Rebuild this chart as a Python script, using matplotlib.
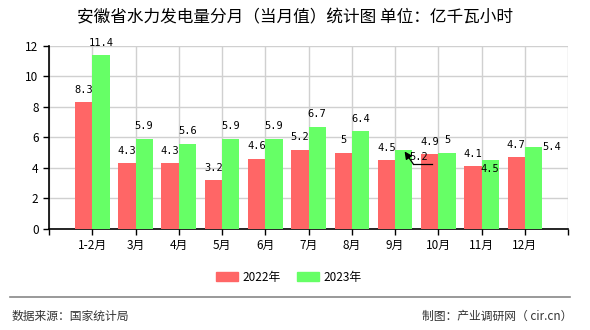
import numpy as np
from matplotlib import pyplot as plt
from matplotlib.patches import Rectangle
from matplotlib.lines import Line2D

plt.rcParams['font.family'] = ['Noto Sans CJK SC', 'DejaVu Sans']

months = ['1-2月', '3月', '4月', '5月', '6月', '7月', '8月', '9月', '10月', '11月', '12月']
v2022 = [8.3, 4.3, 4.3, 3.2, 4.6, 5.2, 5, 4.5, 4.9, 4.1, 4.7]
v2023 = [11.4, 5.9, 5.6, 5.9, 5.9, 6.7, 6.4, 5.2, 5, 4.5, 5.4]

red = '#ff6666'
green = '#66ff66'

fig = plt.figure(figsize=(5.9, 3.3), dpi=100)
ax = fig.add_axes([0.083, 0.306, 0.88, 0.555])

x = np.arange(len(months))
w = 0.4
ax.bar(x - w / 2, v2022, w, color=red, zorder=3)
ax.bar(x + w / 2, v2023, w, color=green, zorder=3)

ax.set_xlim(-1, len(months))
ax.set_ylim(0, 12)
ax.set_yticks(range(0, 13, 2))
ax.set_xticks(np.arange(-1, len(months) + 1))
ax.set_xticklabels([''] + months + [''])
ax.tick_params(axis='both', labelsize=8.5, length=4, width=1, color='black')
ax.grid(True, color='#d0d0d0', linewidth=1, zorder=0)
for s in ['top', 'right']:
    ax.spines[s].set_visible(False)
for s in ['left', 'bottom']:
    ax.spines[s].set_linewidth(1.2)

lbl = dict(fontsize=7.5, family='DejaVu Sans Mono', ha='center', va='center', zorder=5)

def fmt(v):
    return ('%g' % v)

# value labels, a few of them shifted to keep clear of each other
for i in range(len(months)):
    ax.annotate(fmt(v2022[i]), (x[i] - w / 2, v2022[i]), xytext=(0, 9),
                textcoords='offset points', **lbl)
    if months[i] == '9月':
        tip = (x[i] + 0.22, v2023[i] - 0.12)
        foot = (x[i] + 0.42, v2023[i] - 0.94)
        ax.text(x[i] + 0.55, v2023[i] - 0.46, fmt(v2023[i]), **lbl)
        arr = ax.annotate('', xy=tip, xytext=foot,
                          arrowprops=dict(arrowstyle='-|>', color='black', lw=0.9,
                                          mutation_scale=11, shrinkA=0, shrinkB=0))
        arr.arrow_patch.set_zorder(7)
        ax.plot([foot[0], x[i] + 0.86], [foot[1]] * 2, color='black', lw=0.9, zorder=7)
    elif months[i] == '11月':
        ax.annotate(fmt(v2023[i]), (x[i] + w / 2, v2023[i]), xytext=(0, -6.5),
                    textcoords='offset points', **lbl)
    elif months[i] == '12月':
        ax.annotate(fmt(v2023[i]), (x[i] + w, v2023[i]), xytext=(7, 0),
                    textcoords='offset points', **lbl)
    else:
        ax.annotate(fmt(v2023[i]), (x[i] + w / 2, v2023[i]), xytext=(0, 9),
                    textcoords='offset points', **lbl)

fig.text(0.5, 0.945, '安徽省水力发电量分月（当月值）统计图 单位：亿千瓦小时',
         ha='center', va='center', fontsize=12)

# legend
handles = [Rectangle((0, 0), 1, 1, color=red), Rectangle((0, 0), 1, 1, color=green)]
fig.legend(handles, ['2022年', '2023年'], loc='center', bbox_to_anchor=(0.49, 0.16),
           ncol=2, frameon=False, fontsize=8.5, handlelength=1.85, handleheight=0.76,
           columnspacing=1.35, handletextpad=0.4)

fig.add_artist(Line2D([0.017, 0.966], [0.1, 0.1], color='#888888', lw=1.2))
fig.text(0.02, 0.042, '数据来源：国家统计局', ha='left', va='center', fontsize=8.5, color='#333333')
fig.text(0.97, 0.042, '制图：产业调研网（ cir.cn）', ha='right', va='center', fontsize=8.5, color='#333333')

plt.savefig('out.png', dpi=100)
